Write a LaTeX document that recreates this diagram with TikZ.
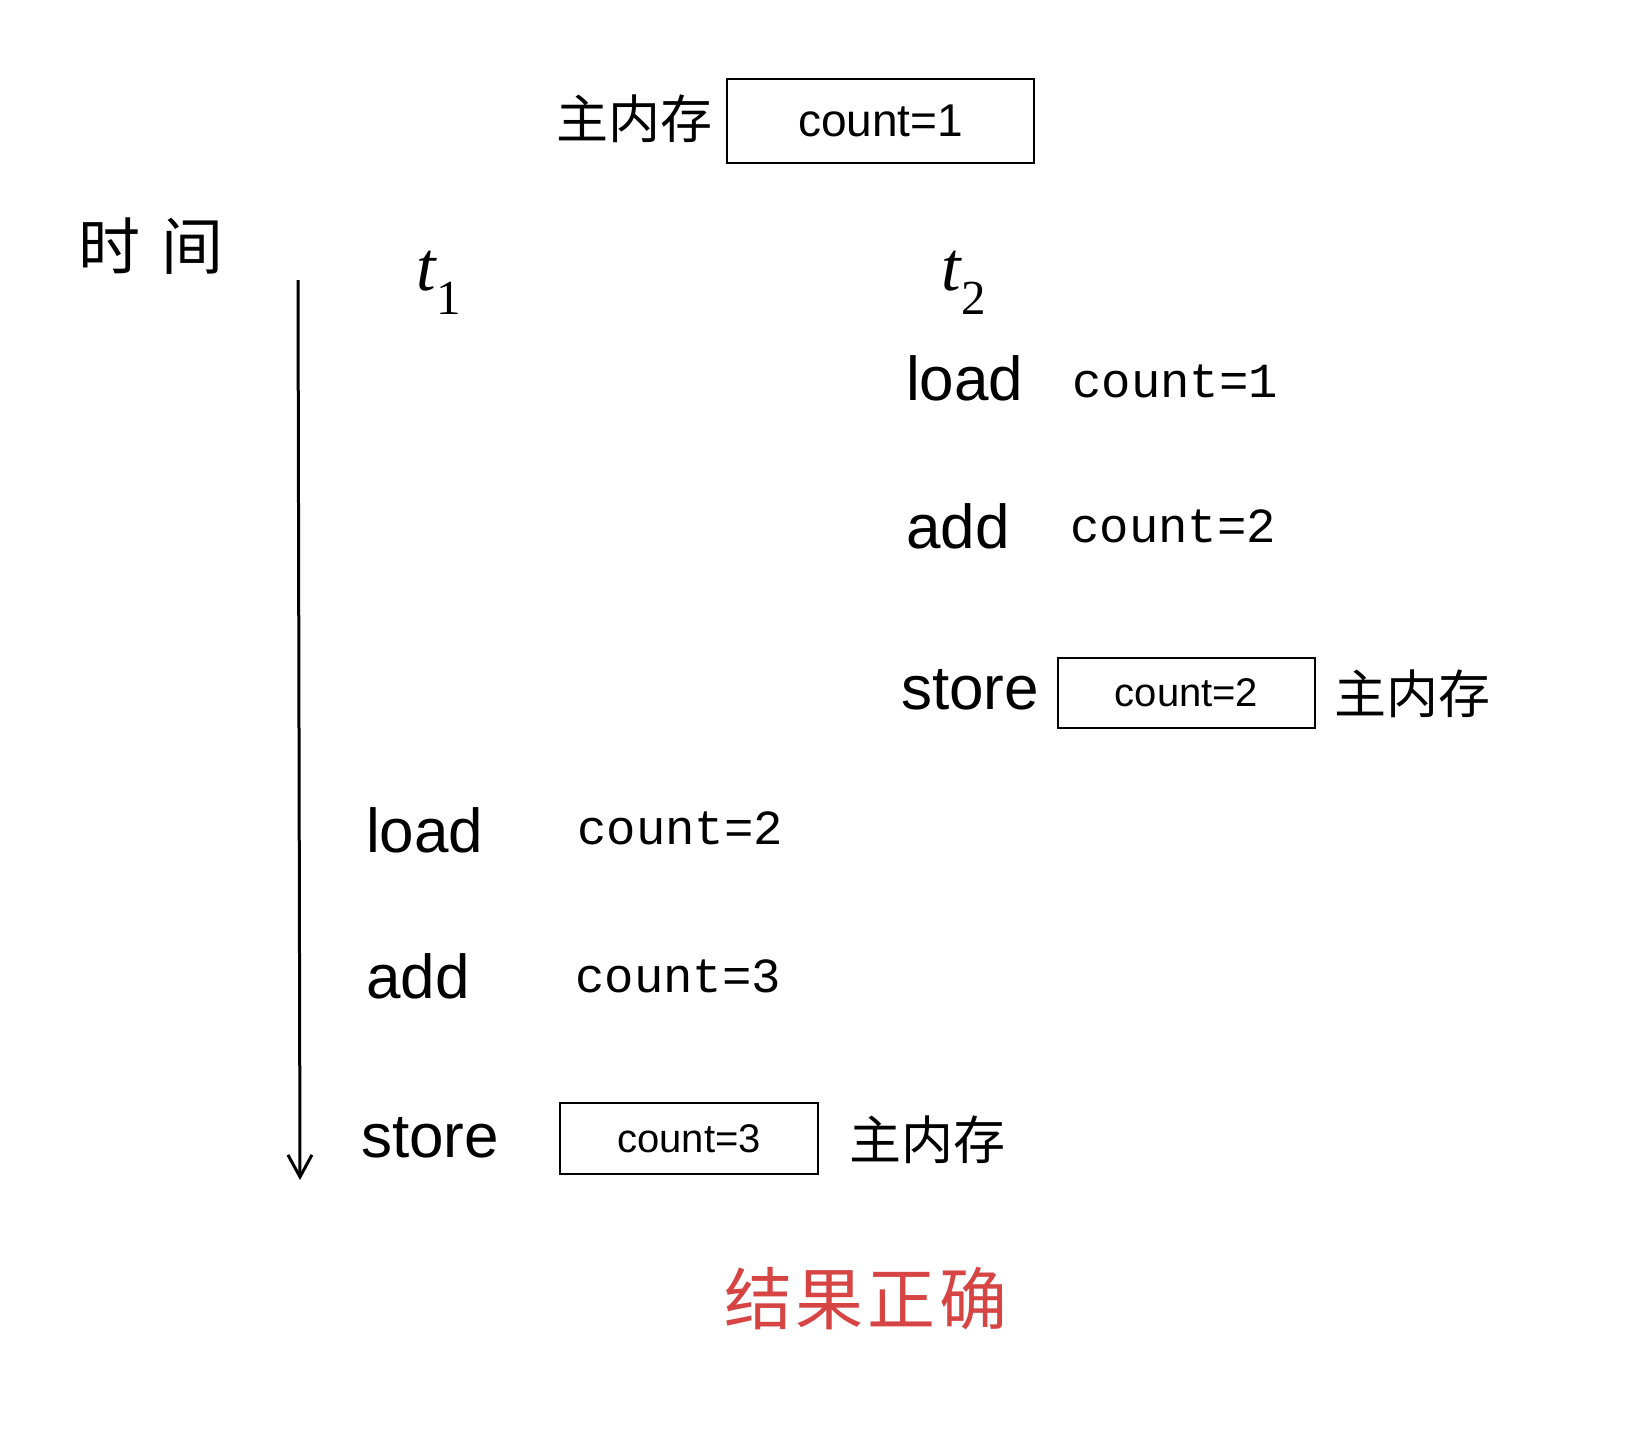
\documentclass[tikz,border=0pt]{standalone}
\usepackage{fontspec}
\setmainfont{Liberation Sans}
\newfontfamily\cjk{Noto Sans CJK SC}
\newfontfamily\hand{Liberation Mono}
\newfontfamily\tfont{Liberation Serif}
\usetikzlibrary{arrows.meta}
\definecolor{handred}{RGB}{214,68,68}
\begin{document}
\begin{tikzpicture}[x=1pt,y=-1pt,
  op/.style={font=\fontsize{62}{70}\selectfont, anchor=base west, inner sep=0pt},
  hw/.style={font=\hand\fontsize{49}{56}\selectfont, anchor=base west, inner sep=0pt},
  zh/.style={font=\cjk\fontsize{52}{60}\selectfont, inner sep=0pt},
  membox/.style={draw, line width=2pt, inner sep=0pt},
  thread/.style={font=\tfont\itshape\fontsize{70}{76}\selectfont, inner sep=0pt},
  timearrow/.style={line width=3pt, -{Straight Barb[length=22pt,width=24pt,line width=3pt]}}
]
\useasboundingbox (0,0) rectangle (1629,1428);

% top main memory
\node[membox, minimum width=307pt, minimum height=84pt, font=\fontsize{46}{54}\selectfont] (mem0) at (880.5,121) {count=1};
\node[zh] (zh0) at (634,119) {主内存};

% time axis
\node[zh, font=\cjk\fontsize{62}{70}\selectfont] (time) at (151,246) {时\hspace{22pt}间};
\coordinate (tstart) at (298,280);
\coordinate (tend) at (300,1180);
\draw[timearrow] (tstart) -- (tend);

% threads
\node[thread] (t1) at (439,283) {t\textsubscript{\upshape 1}};
\node[thread] (t2) at (964,283) {t\textsubscript{\upshape 2}};

% thread 2
\node[op] (load2) at (906,400) {load};
\node[hw] (c21) at (1072,397) {count=1};
\node[op] (add2) at (906,548) {add};
\node[hw] (c22) at (1070,542) {count=2};
\node[op] (store2) at (901,709) {store};
\node[membox, minimum width=257pt, minimum height=70pt, font=\fontsize{40}{48}\selectfont] (mem2) at (1186.5,693) {count=2};
\node[zh] (zh2) at (1412,694) {主内存};

% thread 1
\node[op] (load1) at (366,852) {load};
\node[hw] (c11) at (577,844) {count=2};
\node[op] (add1) at (366,998) {add};
\node[hw] (c12) at (575,992) {count=3};
\node[op] (store1) at (361,1157) {store};
\node[membox, minimum width=258pt, minimum height=71pt, font=\fontsize{40}{48}\selectfont] (mem1) at (689,1138.5) {count=3};
\node[zh] (zh1) at (927,1140) {主内存};

% result
\node[zh, text=handred, font=\cjk\fontsize{68}{76}\selectfont] (result) at (866,1299) {结\hspace{4pt}果\hspace{4pt}正\hspace{4pt}确};
\end{tikzpicture}
\end{document}
